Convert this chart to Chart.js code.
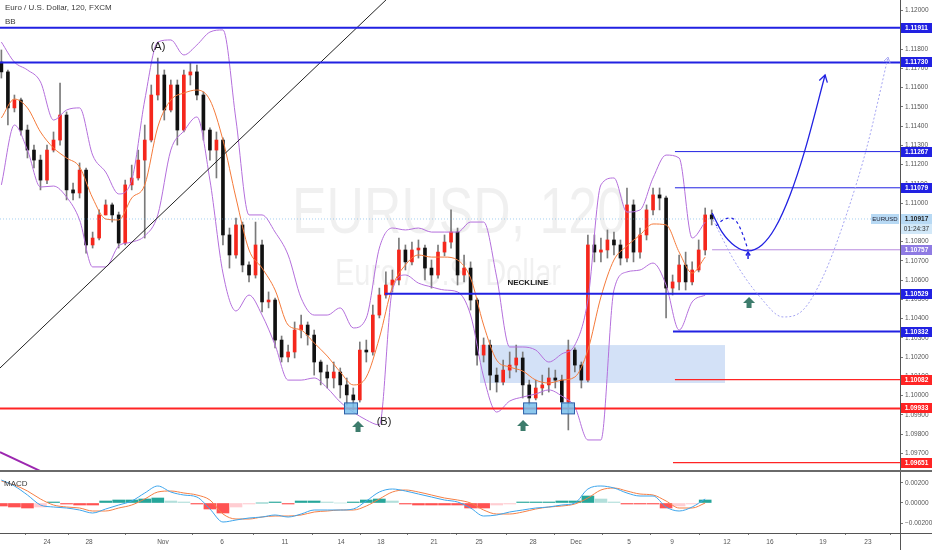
<!DOCTYPE html>
<html>
<head>
<meta charset="utf-8">
<script src="https://cdn.jsdelivr.net/npm/chart.js@4.4.0/dist/chart.umd.min.js"></script>
<style>
  html, body { margin: 0; padding: 0; background: #fff; }
  #wrap { position: relative; width: 932px; height: 550px; overflow: hidden; }
  #priceChart { position: absolute; left: 0; top: 0; }
  #macdChart { position: absolute; left: 0; top: 472px; }
</style>
</head>
<body>
<div id="wrap">
  <canvas id="priceChart" width="932" height="472"></canvas>
  <canvas id="macdChart" width="932" height="78"></canvas>
</div>
<script>
// time is counted in trading days from Oct 24, one candle = 8 hours
const firstDay = -2.333;
const barStep = 1 / 3;
const viewStart = -2.404;
const viewEnd = 43.632;
const firstOpen = 1.11732;

const closes = [1.11681,1.11494,1.11535,1.11379,1.11275,1.11223,1.11119,1.11275,1.11327,1.11457,
  1.11068,1.11052,1.11171,1.10782,1.10818,1.10938,1.10990,1.10938,1.10792,1.11094,
  1.11130,1.11223,1.11327,1.11561,1.11665,1.11483,1.11613,1.11379,1.11665,1.11681,
  1.11561,1.11379,1.11275,1.11327,1.10834,1.10730,1.10886,1.10678,1.10626,1.10782,
  1.10486,1.10496,1.10288,1.10200,1.10226,1.10340,1.10366,1.10314,1.10174,1.10122,
  1.10091,1.10122,1.10055,1.10003,1.09977,1.10236,1.10226,1.10418,1.10522,1.10574,
  1.10600,1.10756,1.10694,1.10756,1.10766,1.10662,1.10626,1.10745,1.10797,1.10849,
  1.10626,1.10662,1.10496,1.10210,1.10262,1.10106,1.10070,1.10132,1.10158,1.10195,
  1.10055,1.09987,1.10039,1.10055,1.10091,1.10080,1.09966,1.10236,1.10158,1.10080,
  1.10782,1.10745,1.10756,1.10808,1.10782,1.10714,1.10990,1.10745,1.10834,1.10964,
  1.11042,1.11026,1.10558,1.10590,1.10678,1.10590,1.10652,1.10756,1.10938,1.10917];
const highs = [1.11795,1.11691,1.11561,1.11545,1.11405,1.11301,1.11249,1.11301,1.11369,1.11623,
  1.11473,1.11104,1.11208,1.11182,1.10849,1.10964,1.11016,1.11000,1.10953,1.11119,
  1.11197,1.11275,1.11405,1.11613,1.11753,1.11691,1.11639,1.11639,1.11691,1.11727,
  1.11717,1.11577,1.11390,1.11369,1.11338,1.10870,1.10922,1.10901,1.10694,1.10901,
  1.10808,1.10538,1.10506,1.10309,1.10262,1.10382,1.10418,1.10382,1.10340,1.10184,
  1.10158,1.10174,1.10143,1.10091,1.10039,1.10278,1.10288,1.10470,1.10558,1.10642,
  1.10652,1.10818,1.10782,1.10797,1.10808,1.10782,1.10704,1.10782,1.10834,1.10964,
  1.10870,1.10730,1.10694,1.10506,1.10299,1.10288,1.10143,1.10184,1.10226,1.10262,
  1.10226,1.10080,1.10080,1.10106,1.10143,1.10132,1.10106,1.10288,1.10247,1.10174,
  1.10834,1.10834,1.10818,1.10860,1.10849,1.10808,1.11078,1.11016,1.10870,1.10990,
  1.11078,1.11078,1.11036,1.10626,1.10730,1.10745,1.10694,1.10808,1.10974,1.10964];
const lows = [1.11649,1.11405,1.11473,1.11353,1.11234,1.11182,1.11068,1.11100,1.11265,1.11301,
  1.11016,1.11016,1.11026,1.10740,1.10766,1.10808,1.10938,1.10901,1.10766,1.10782,
  1.11068,1.11119,1.10818,1.11317,1.11535,1.11431,1.11473,1.11301,1.11369,1.11613,
  1.11535,1.11327,1.11223,1.11130,1.10782,1.10662,1.10714,1.10642,1.10590,1.10610,
  1.10434,1.10455,1.10247,1.10174,1.10174,1.10195,1.10299,1.10262,1.10106,1.10055,
  1.10039,1.10039,1.09987,1.09951,1.09925,1.09966,1.10174,1.10210,1.10403,1.10506,
  1.10538,1.10574,1.10652,1.10678,1.10714,1.10600,1.10558,1.10610,1.10725,1.10766,
  1.10574,1.10590,1.10444,1.10158,1.10174,1.10029,1.10018,1.10055,1.10091,1.10122,
  1.09987,1.09951,1.09977,1.10003,1.10018,1.10039,1.09925,1.09821,1.10122,1.10039,
  1.10070,1.10694,1.10694,1.10714,1.10730,1.10678,1.10694,1.10694,1.10714,1.10808,
  1.10938,1.10964,1.10403,1.10522,1.10548,1.10548,1.10574,1.10642,1.10730,1.10886];

// Bollinger Bands, read every second candle
const bbUpper = [1.11836,1.11732,1.11691,1.11629,1.11431,1.11483,1.11494,1.11249,1.11161,1.11047,
  1.11119,1.11535,1.11836,1.11847,1.11769,1.11821,1.11888,1.11899,1.11431,1.10938,
  1.10938,1.10849,1.10730,1.10506,1.10418,1.10418,1.10455,1.10351,1.10403,1.10766,
  1.10870,1.10860,1.10870,1.10849,1.10849,1.10849,1.10901,1.10901,1.10616,1.10252,
  1.10252,1.10236,1.10174,1.10216,1.10262,1.10496,1.11094,1.11130,1.10953,1.10964,
  1.11130,1.11249,1.11234,1.10818,1.10901];
const bbBasis = [1.11442,1.11540,1.11494,1.11369,1.11286,1.11234,1.11187,1.11026,1.10917,1.10912,
  1.11026,1.11094,1.11395,1.11535,1.11571,1.11587,1.11535,1.11327,1.11026,1.10756,
  1.10662,1.10548,1.10366,1.10340,1.10273,1.10205,1.10122,1.10055,1.10096,1.10299,
  1.10564,1.10678,1.10730,1.10719,1.10719,1.10704,1.10610,1.10366,1.10184,1.10148,
  1.10127,1.10080,1.10065,1.10080,1.10096,1.10236,1.10512,1.10704,1.10777,1.10834,
  1.10891,1.10886,1.10745,1.10636,1.10719];
const bbLower = [1.11094,1.11405,1.11275,1.11083,1.11088,1.11031,1.10912,1.10668,1.10668,1.10777,
  1.10797,1.10829,1.10938,1.11275,1.11374,1.11447,1.11119,1.10636,1.10439,1.10522,
  1.10418,1.10262,1.10080,1.10080,1.10091,1.10039,1.09966,1.09914,1.09873,1.09847,
  1.10548,1.10626,1.10584,1.10564,1.10548,1.10538,1.10418,1.10096,1.09914,1.09971,
  1.09992,1.10008,1.10029,1.09997,1.09940,1.09769,1.09769,1.10548,1.10642,1.10652,
  1.10688,1.10574,1.10340,1.10486,1.10522];

// MACD, read every second candle
const macdLine = [0.0023,0.0017,0.0008,-0.0002,-0.0004,-0.0005,-0.0007,-0.0010,-0.0006,-0.0002,
  0.0002,0.0010,0.0017,0.0011,0.0008,0.0006,-0.0006,-0.0019,-0.0017,-0.0015,
  -0.0014,-0.0012,-0.0014,-0.0011,-0.0007,-0.0007,-0.0007,-0.0006,0.0002,0.0011,
  0.0014,0.0012,0.0009,0.0006,0.0003,0.0001,-0.0005,-0.0013,-0.0012,-0.0009,
  -0.0007,-0.0005,-0.0004,-0.0002,0.0000,0.0014,0.0017,0.0015,0.0010,0.0007,
  0.0007,-0.0004,-0.0008,-0.0004,0.0004];
const signalLine = [0.0022,0.0018,0.0012,0.0004,-0.0002,-0.0004,-0.0005,-0.0008,-0.0008,-0.0005,
  -0.0002,0.0004,0.0011,0.0012,0.0010,0.0008,0.0003,-0.0011,-0.0016,-0.0016,
  -0.0014,-0.0013,-0.0013,-0.0012,-0.0009,-0.0008,-0.0007,-0.0007,-0.0003,0.0004,
  0.0011,0.0013,0.0011,0.0008,0.0005,0.0003,0.0000,-0.0007,-0.0011,-0.0011,
  -0.0009,-0.0006,-0.0004,-0.0003,-0.0001,0.0005,0.0013,0.0015,0.0012,0.0009,
  0.0008,0.0002,-0.0005,-0.0005,0.0000];
const histogram = [-0.0003,-0.0004,-0.0005,-0.0004,0.0001,-0.0001,-0.0002,-0.0002,0.0002,0.0003,
  0.0003,0.0004,0.0005,0.0002,0.0001,-0.0001,-0.0006,-0.0010,-0.0004,-0.0001,
  0.0000,0.0001,-0.0001,0.0002,0.0002,0.0001,0.0000,0.0001,0.0003,0.0004,
  0.0002,-0.0001,-0.0002,-0.0002,-0.0002,-0.0002,-0.0005,-0.0005,-0.0002,-0.0001,
  0.0001,0.0001,0.0001,0.0002,0.0002,0.0007,0.0004,0.0001,-0.0001,-0.0001,
  -0.0001,-0.0005,-0.0003,-0.0001,0.0003];

const priceTicks = [1.097,1.098,1.099,1.100,1.101,1.102,1.103,1.104,1.105,1.106,1.107,1.108,
  1.109,1.110,1.111,1.112,1.113,1.114,1.115,1.116,1.117,1.118,1.119,1.120];
const macdTicks = [-0.002, 0, 0.002];
const tickDays = [0, 2.15, 5.93, 8.95, 12.17, 15.04, 17.08, 19.80, 22.10, 24.86, 27.06, 29.77, 31.97, 34.78, 36.98, 39.69, 41.99];
const tickLabels = ['24','28','Nov','6','11','14','18','21','25','28','Dec','5','9','12','16','19','23'];

// drawn levels
const levelPrices = [1.11911, 1.11730, 1.11267, 1.11079, 1.10757, 1.10529, 1.10332, 1.10082, 1.09933, 1.09651];
const levelFrom = [-2.404, -2.404, 32.12, 32.12, 34.02, 17.29, 32.02, 32.12, -2.404, 32.02];
const levelKind = ['blue','blue','blue','blue','purple','blue','blue','red','red','red'];
const levelWidth = [2, 2, 1, 1, 1, 2, 2, 1.2, 2, 1.2];
const lastPrice = 1.10917;
const countdown = '01:24:37';

// other drawings
const zoneDays = [22.15, 34.68];
const zonePrices = [1.10262, 1.10065];
const boxDays = [15.55, 24.71, 26.65];
const boxPrice = 1.09933;
const arrowDays = [15.91, 24.35, 35.91];
const arrowPrices = [1.09867, 1.09873, 1.10512];
const noteTexts = ['(A)', '(B)', 'NECKLINE'];
const noteDays = [5.68, 17.24, 24.60];
const notePrices = [1.11810, 1.09862, 1.10584];
const pathMainDays = [34.02, 34.53, 35.19, 35.86, 36.57, 37.24, 38.01, 38.77, 39.80];
const pathMainPrices = [1.10948, 1.10849, 1.10777, 1.10751, 1.10782, 1.10870, 1.11042, 1.11275, 1.11665];
const pathAltDays = [34.22, 34.58, 34.94, 35.29, 35.60, 35.86];
const pathAltPrices = [1.10881, 1.10912, 1.10922, 1.10901, 1.10834, 1.10756];
const pathDeepDays = [34.07, 35.19, 36.47, 37.65, 38.67, 39.69, 40.92, 41.94, 43.02];
const pathDeepPrices = [1.10912, 1.10694, 1.10512, 1.10408, 1.10444, 1.10616, 1.10948, 1.11291, 1.11758];
const trendDays = [-2.404, 17.34];
const trendPrices = [1.10143, 1.12055];
const slopeDays = [-2.404, -0.36];
const slopePrices = [1.09706, 1.09608];
const pivotArrow = [35.86, 1.10745];

const kindColor = { blue: '#2121e2', purple: '#b88ade', red: '#ff2424' };
const tagColor = { blue: '#2121e2', purple: '#8f7be3', red: '#ff2424' };
const FONT = '"Liberation Sans", Arial, sans-serif';
Chart.defaults.font.family = FONT;

const pts = (days, vals) => days.map((d, i) => ({ x: d, y: vals[i] }));
const opens = [firstOpen].concat(closes.slice(0, -1));
const barDays = closes.map((c, i) => firstDay + i * barStep);
const bandDays = bbUpper.map((v, i) => firstDay + 2 * i * barStep);

function lineSet(days, vals, color, width, extra) {
    return Object.assign({
        type: 'line', data: pts(days, vals), borderColor: color, borderWidth: width,
        pointRadius: 0, fill: false, cubicInterpolationMode: 'monotone', order: 5
    }, extra || {});
}

function chevron(ctx, x0, y0, x1, y1, size) {
    const ang = Math.atan2(y1 - y0, x1 - x0);
    ctx.beginPath();
    ctx.moveTo(x1 - size * Math.cos(ang - 0.55), y1 - size * Math.sin(ang - 0.55));
    ctx.lineTo(x1, y1);
    ctx.lineTo(x1 - size * Math.cos(ang + 0.55), y1 - size * Math.sin(ang + 0.55));
    ctx.stroke();
}

function tag(ctx, py, text, bg, fg) {
    ctx.fillStyle = bg;
    ctx.fillRect(901, Math.round(py) - 5, 31, 10);
    ctx.fillStyle = fg;
    ctx.font = 'bold 6.5px ' + FONT;
    ctx.textAlign = 'center';
    ctx.textBaseline = 'middle';
    ctx.fillText(text, 916.5, Math.round(py) + 0.5);
}

const overlay = {
    id: 'overlay',
    beforeDatasetsDraw(chart) {
        const { ctx, chartArea: a, scales: { x, y } } = chart;
        ctx.save();
        ctx.beginPath();
        ctx.rect(a.left, a.top, a.right - a.left, a.bottom - a.top);
        ctx.clip();
        ctx.fillStyle = 'rgba(0,0,0,0.06)';
        ctx.textAlign = 'center';
        ctx.textBaseline = 'alphabetic';
        ctx.font = '64px ' + FONT;
        ctx.fillText('EURUSD, 120', 459, 233, 334);
        ctx.font = '37px ' + FONT;
        ctx.fillText('Euro / U.S. Dollar', 448, 285, 226);
        const zx0 = x.getPixelForValue(zoneDays[0]), zx1 = x.getPixelForValue(zoneDays[1]);
        const zy0 = y.getPixelForValue(zonePrices[0]), zy1 = y.getPixelForValue(zonePrices[1]);
        ctx.fillStyle = 'rgba(110,155,230,0.3)';
        ctx.fillRect(zx0, zy0, zx1 - zx0, zy1 - zy0);
        ctx.restore();
    },
    afterDatasetsDraw(chart) {
        const { ctx, scales: { x, y } } = chart;
        ctx.save();
        // boxes on the lows
        boxDays.forEach(d => {
            const px = x.getPixelForValue(d), py = y.getPixelForValue(boxPrice);
            ctx.fillStyle = 'rgba(120,190,235,0.85)';
            ctx.fillRect(px - 6.5, py - 5.5, 13, 11);
            ctx.strokeStyle = '#2d5fa6';
            ctx.lineWidth = 1;
            ctx.strokeRect(px - 6.5, py - 5.5, 13, 11);
        });
        // green arrows
        ctx.fillStyle = '#3d7c6c';
        arrowDays.forEach((d, i) => {
            const px = x.getPixelForValue(d), py = y.getPixelForValue(arrowPrices[i]);
            ctx.beginPath();
            ctx.moveTo(px, py);
            ctx.lineTo(px + 6, py + 6);
            ctx.lineTo(px + 2.5, py + 6);
            ctx.lineTo(px + 2.5, py + 11);
            ctx.lineTo(px - 2.5, py + 11);
            ctx.lineTo(px - 2.5, py + 6);
            ctx.lineTo(px - 6, py + 6);
            ctx.closePath();
            ctx.fill();
        });
        // notes
        ctx.fillStyle = '#1a1a1a';
        ctx.textAlign = 'center';
        ctx.textBaseline = 'middle';
        noteTexts.forEach((t, i) => {
            ctx.font = (t === 'NECKLINE' ? 'bold 8px ' : '11px ') + FONT;
            ctx.fillText(t, x.getPixelForValue(noteDays[i]), y.getPixelForValue(notePrices[i]));
        });
        // arrow heads of the projections
        const n1 = pathMainDays.length - 1;
        ctx.strokeStyle = '#2121e2';
        ctx.lineWidth = 1.3;
        chevron(ctx, x.getPixelForValue(pathMainDays[n1 - 1]), y.getPixelForValue(pathMainPrices[n1 - 1]),
            x.getPixelForValue(pathMainDays[n1]), y.getPixelForValue(pathMainPrices[n1]), 8);
        const px = x.getPixelForValue(pivotArrow[0]), py = y.getPixelForValue(pivotArrow[1]);
        ctx.lineWidth = 1.5;
        ctx.beginPath();
        ctx.moveTo(px, py);
        ctx.lineTo(px, py + 7);
        ctx.stroke();
        chevron(ctx, px, py + 7, px, py, 4);
        const n2 = pathDeepDays.length - 1;
        ctx.strokeStyle = '#a4a4f2';
        ctx.lineWidth = 1;
        chevron(ctx, x.getPixelForValue(pathDeepDays[n2 - 1]), y.getPixelForValue(pathDeepPrices[n2 - 1]),
            x.getPixelForValue(pathDeepDays[n2]), y.getPixelForValue(pathDeepPrices[n2]), 7);
        // symbol box at the last price
        const ly = Math.round(y.getPixelForValue(lastPrice));
        ctx.fillStyle = '#b7d9f4';
        ctx.fillRect(871, ly - 5, 28, 10);
        ctx.fillStyle = '#223';
        ctx.font = '6px ' + FONT;
        ctx.fillText('EURUSD', 885, ly + 0.5);
        ctx.restore();
    },
    afterDraw(chart) {
        const { ctx, scales: { y } } = chart;
        ctx.save();
        levelPrices.forEach((p, i) => {
            tag(ctx, y.getPixelForValue(p), p.toFixed(5), tagColor[levelKind[i]], '#fff');
        });
        const ly = y.getPixelForValue(lastPrice);
        tag(ctx, ly, lastPrice.toFixed(5), '#b7d9f4', '#222');
        ctx.fillStyle = '#d2e8f8';
        ctx.fillRect(901, Math.round(ly) + 5, 31, 10);
        ctx.fillStyle = '#333';
        ctx.font = '6.5px ' + FONT;
        ctx.fillText(countdown, 916.5, Math.round(ly) + 10.5);
        // header
        ctx.textAlign = 'left';
        ctx.textBaseline = 'middle';
        ctx.fillStyle = '#3a3a3a';
        ctx.font = '8px ' + FONT;
        ctx.fillText('Euro / U.S. Dollar, 120, FXCM', 5, 8);
        ctx.fillText('BB', 5, 22);
        // pane separator
        ctx.fillStyle = '#6a6a6a';
        ctx.fillRect(0, 470, 932, 2);
        ctx.restore();
    }
};

const macdOverlay = {
    id: 'macdOverlay',
    afterDraw(chart) {
        const { ctx, chartArea: a } = chart;
        ctx.save();
        ctx.fillStyle = '#3a3a3a';
        ctx.font = '8px ' + FONT;
        ctx.textAlign = 'left';
        ctx.textBaseline = 'middle';
        ctx.fillText('MACD', 4, 12);
        ctx.fillStyle = '#555';
        ctx.fillRect(a.right, a.bottom, 32, 1);
        ctx.fillRect(a.right, a.bottom, 1, 20);
        ctx.restore();
    }
};

const noPad = s => { s.paddingTop = 0; s.paddingBottom = 0; s.paddingLeft = 0; s.paddingRight = 0; };

const wickData = barDays.map((d, i) => ({ x: d, y: [lows[i], highs[i]] }));
const bodyData = barDays.map((d, i) => ({ x: d, y: [opens[i], closes[i]] }));
const bodyColors = closes.map((c, i) => c >= opens[i] ? '#f5271c' : '#111111');

const datasets = [
    { type: 'bar', data: wickData, backgroundColor: '#7a7a7a', barThickness: 1, grouped: false, order: 20 },
    { type: 'bar', data: bodyData, backgroundColor: bodyColors, barThickness: 3, grouped: false, minBarLength: 1, order: 19 },
    lineSet(bandDays, bbUpper, '#b46fdc', 1, { order: 10 }),
    lineSet(bandDays, bbLower, '#b46fdc', 1, { order: 10 }),
    lineSet(bandDays, bbBasis, '#f47a3a', 1, { order: 9 }),
    lineSet([viewStart, viewEnd], [lastPrice, lastPrice], 'rgba(90,170,230,0.55)', 1, { borderDash: [1, 2], order: 8 }),
    lineSet(trendDays, trendPrices, '#222', 1, { order: 4 }),
    lineSet(slopeDays, slopePrices, '#9c27b0', 2, { order: 4 }),
    lineSet(pathMainDays, pathMainPrices, '#2121e2', 1.3, { order: 2 }),
    lineSet(pathAltDays, pathAltPrices, '#2121e2', 1.2, { borderDash: [3, 3], order: 2 }),
    lineSet(pathDeepDays, pathDeepPrices, '#a4a4f2', 1, { borderDash: [2, 2], order: 2 })
].concat(levelPrices.map((p, i) =>
    lineSet([levelFrom[i], viewEnd], [p, p], kindColor[levelKind[i]], levelWidth[i], { order: 3 })));

new Chart(document.getElementById('priceChart'), {
    type: 'bar',
    data: { datasets: datasets },
    options: {
        responsive: false,
        animation: false,
        devicePixelRatio: 1,
        layout: { padding: 0 },
        plugins: { legend: { display: false }, tooltip: { enabled: false } },
        scales: {
            x: { type: 'linear', min: viewStart, max: viewEnd, offset: false, bounds: 'data', display: false },
            y: {
                type: 'linear', position: 'right', min: 1.096026, max: 1.1205455, bounds: 'data', beginAtZero: false,
                afterBuildTicks: s => { s.ticks = priceTicks.map(v => ({ value: v })); },
                afterFit: s => { s.width = 32; noPad(s); },
                ticks: { autoSkip: false, padding: 2, color: '#555', font: { size: 6.5 }, callback: v => v.toFixed(5) },
                grid: { drawOnChartArea: false, drawTicks: true, tickLength: 3, tickColor: '#777' },
                border: { display: true, color: '#555' }
            }
        }
    },
    plugins: [overlay]
});

const histColors = histogram.map((h, i) => {
    const prev = i > 0 ? histogram[i - 1] : h;
    if (h >= 0) return h >= prev ? '#26a69a' : '#b2dfdb';
    return h <= prev ? '#ff5252' : '#ffcdd2';
});

new Chart(document.getElementById('macdChart'), {
    type: 'bar',
    data: {
        datasets: [
            { type: 'bar', data: pts(bandDays, histogram), backgroundColor: histColors, barThickness: 12, order: 3 },
            lineSet(bandDays, signalLine, '#f57f45', 1, { order: 2 }),
            lineSet(bandDays, macdLine, '#3da5ec', 1, { order: 1 })
        ]
    },
    options: {
        responsive: false,
        animation: false,
        devicePixelRatio: 1,
        layout: { padding: 0 },
        plugins: { legend: { display: false }, tooltip: { enabled: false } },
        scales: {
            x: {
                type: 'linear', min: viewStart, max: viewEnd, offset: false, bounds: 'data',
                afterBuildTicks: s => { s.ticks = tickDays.map(v => ({ value: v })); },
                afterFit: s => { s.height = 17; noPad(s); },
                ticks: { autoSkip: false, maxRotation: 0, padding: 3, color: '#555', font: { size: 6.5 },
                    callback: (v, i) => tickLabels[i] },
                grid: { drawOnChartArea: false, drawTicks: true, tickLength: 2, tickColor: '#777' },
                border: { display: true, color: '#555' }
            },
            y: {
                type: 'linear', position: 'right', min: -0.0030, max: 0.0031, bounds: 'data', beginAtZero: false,
                afterBuildTicks: s => { s.ticks = macdTicks.map(v => ({ value: v })); },
                afterFit: s => { s.width = 32; noPad(s); },
                ticks: { autoSkip: false, padding: 2, color: '#555', font: { size: 6.5 },
                    callback: v => (v < 0 ? '\u2212' : '') + Math.abs(v).toFixed(5) },
                grid: { drawOnChartArea: false, drawTicks: true, tickLength: 3, tickColor: '#777' },
                border: { display: true, color: '#555' }
            }
        }
    },
    plugins: [macdOverlay]
});
</script>
</body>
</html>
